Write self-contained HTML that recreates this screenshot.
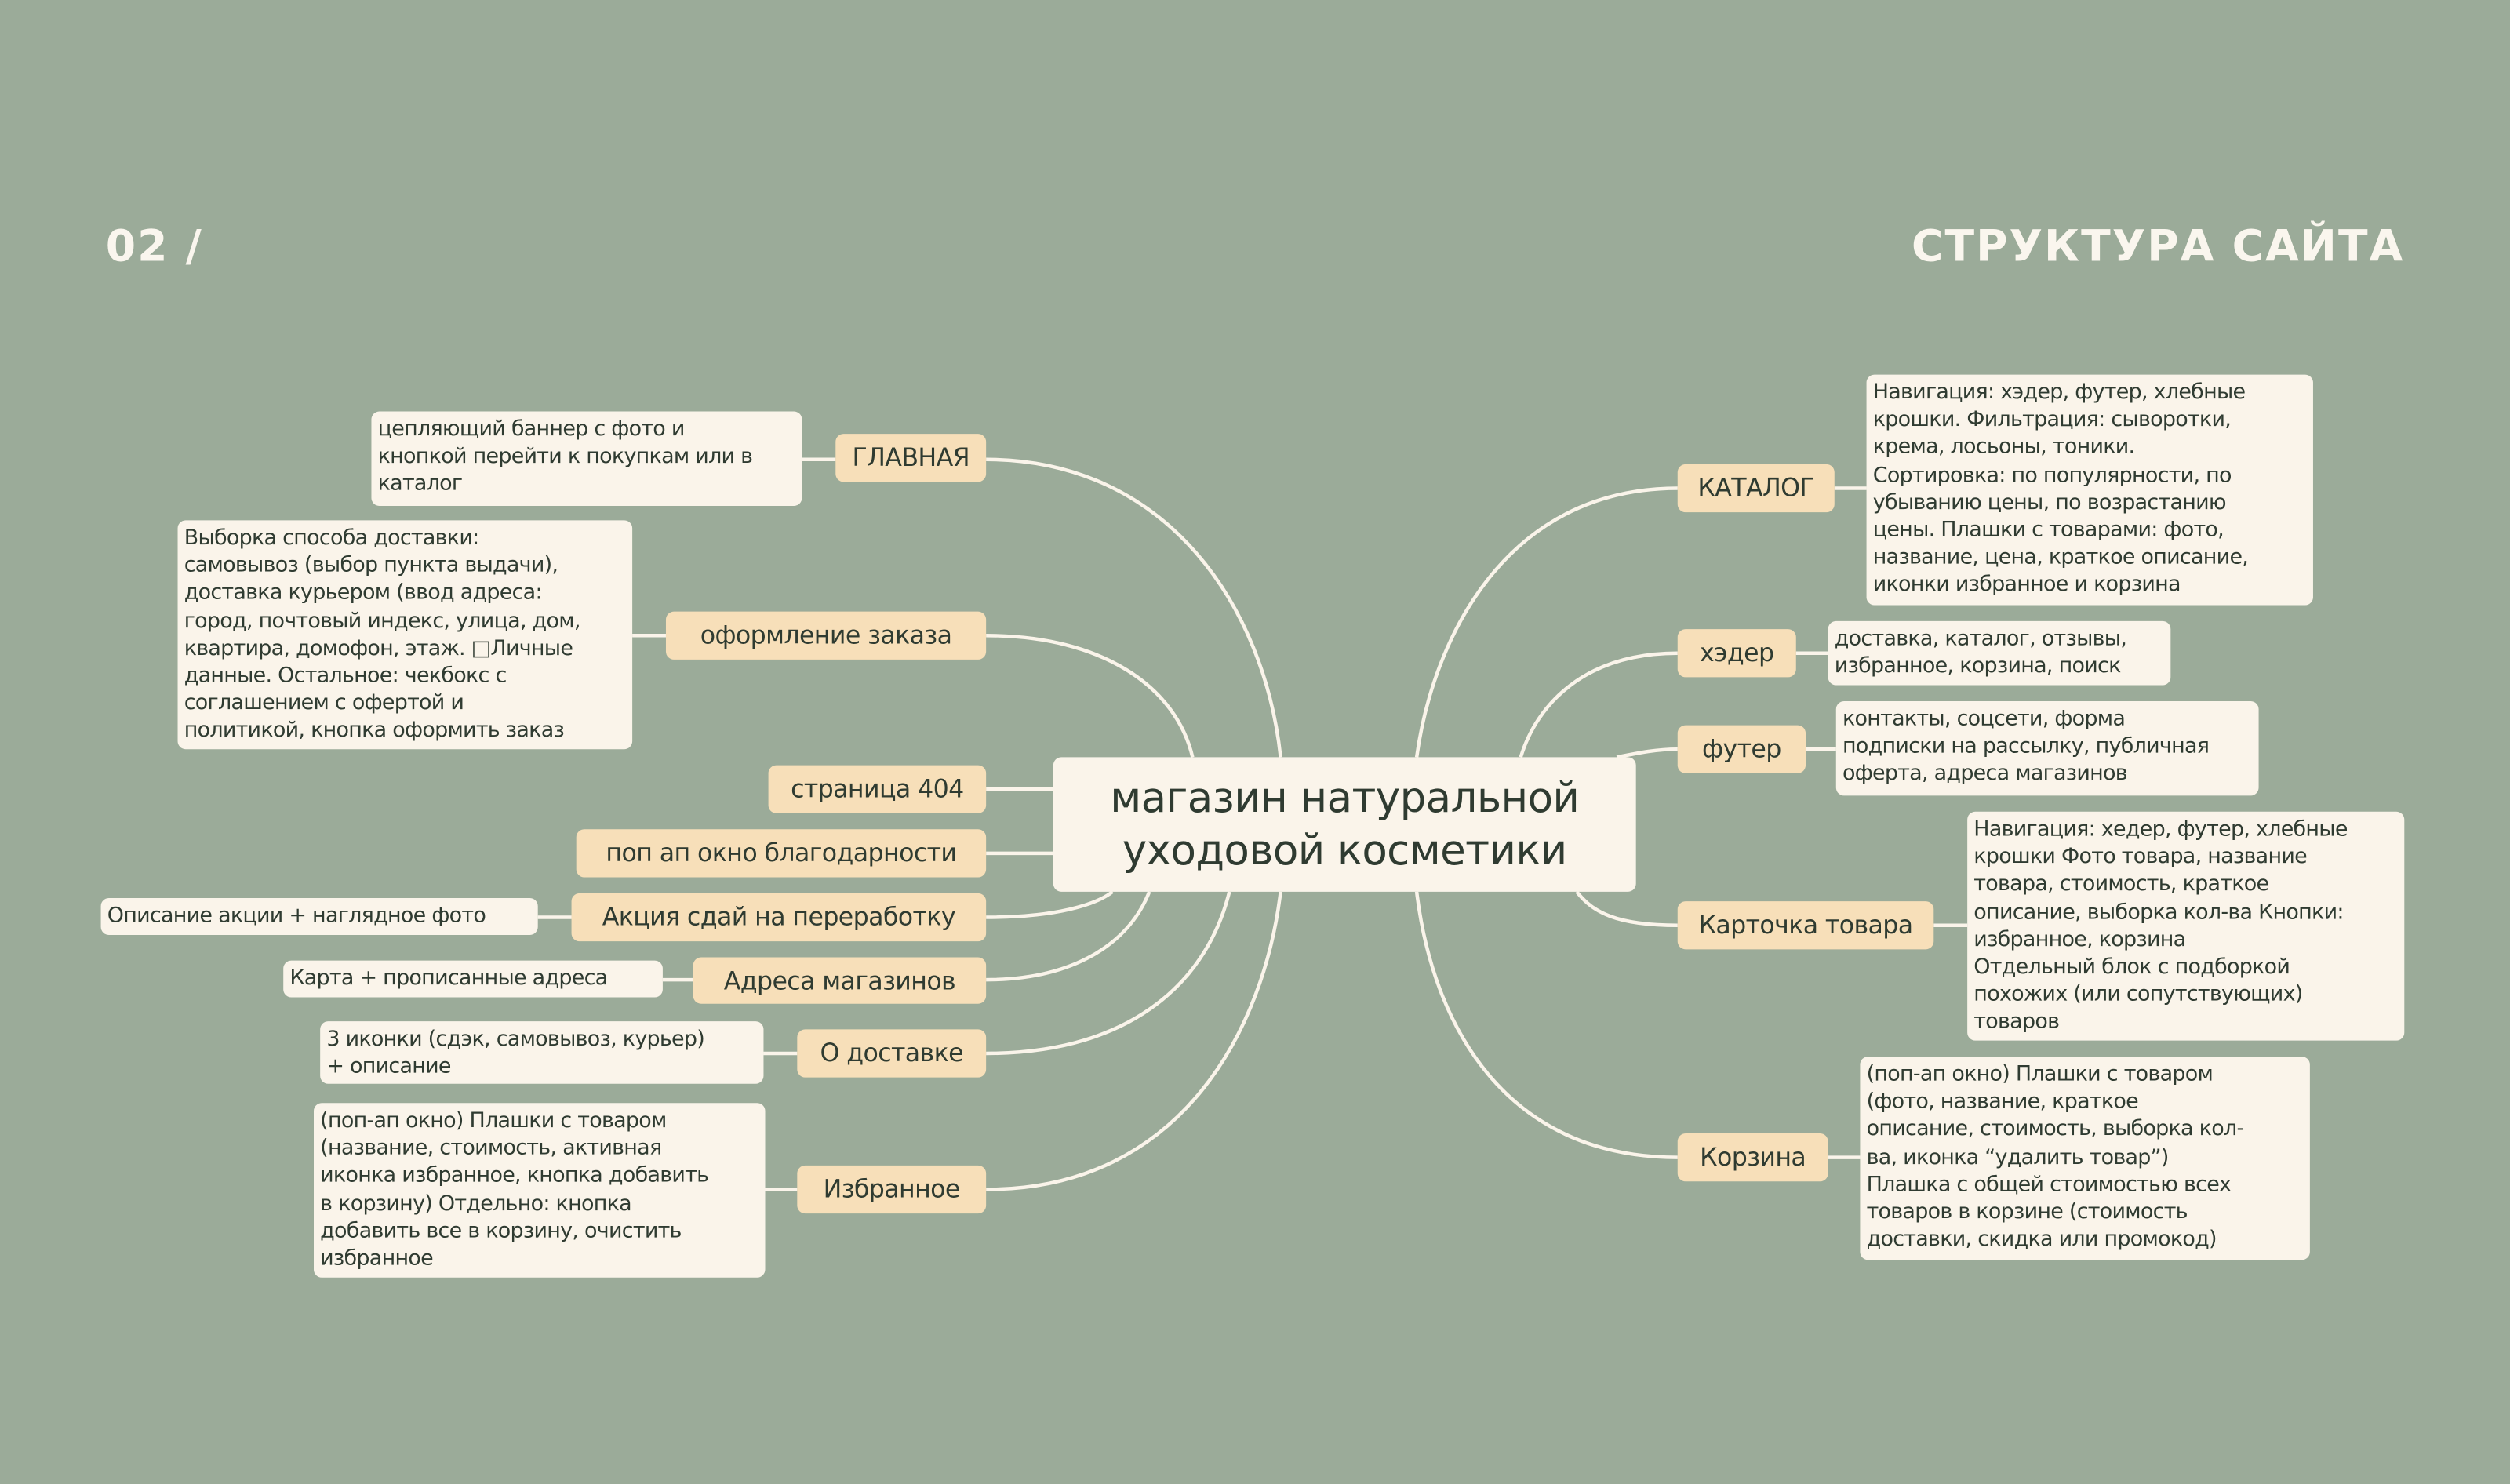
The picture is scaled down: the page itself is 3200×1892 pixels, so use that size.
<!DOCTYPE html>
<html><head><meta charset="utf-8"><style>
html,body{margin:0;padding:0;}
body{width:3200px;height:1892px;overflow:hidden;background:#9bab99;}
#w{position:absolute;left:0;top:0;width:1568px;height:927px;transform:scale(2.0408,2.041);transform-origin:0 0;font-family:"DejaVu Sans","Liberation Sans",sans-serif;color:#2f3b31;}
.o,.b,.c{position:absolute;box-sizing:border-box;border-radius:5px;}
.o{background:#f7dfb9;font-size:15.5px;display:flex;align-items:center;justify-content:center;white-space:nowrap;letter-spacing:-0.3px;}
.b{background:#faf4ea;font-size:13.2px;line-height:17.2px;padding:3px 4px 1px;white-space:nowrap;letter-spacing:-0.35px;}
.c{background:#faf4ea;font-size:26px;line-height:33px;text-align:center;padding-top:10px;letter-spacing:-0.3px;}
.h{position:absolute;color:#faf6ee;font-size:27px;font-weight:bold;top:139px;letter-spacing:1px;}
svg{position:absolute;left:0;top:0;}
</style></head><body><div id="w">
<div class="h" style="left:66px;">02 /</div>
<div class="h" style="right:66px;">СТРУКТУРА САЙТА</div>
<svg width="1568" height="927" fill="none" stroke="#faf4ea" stroke-width="2.2">
<path d="M616,287 C730,287 790,380 800,473"/>
<path d="M616,397 C690,397 735,430 745,473"/>
<path d="M616,493 L658,493"/>
<path d="M616,533 L658,533"/>
<path d="M616,573 C660,573 685,565 695,557"/>
<path d="M616,612 C670,612 705,590 718,557"/>
<path d="M616,658 C710,658 755,610 768,557"/>
<path d="M616,743 C740,743 790,640 800,557"/>
<path d="M1048,305 C940,305 895,400 885,473"/>
<path d="M1048,408 C990,408 960,440 950,473"/>
<path d="M1048,468 C1035,468 1025,470 1010,473"/>
<path d="M1048,578 C1010,578 995,570 985,557"/>
<path d="M1048,723 C940,723 895,640 885,557"/>
<path d="M501,287 L522,287"/>
<path d="M395,397 L416,397"/>
<path d="M336,573 L357,573"/>
<path d="M414,612 L433,612"/>
<path d="M477,658 L498,658"/>
<path d="M478,743 L498,743"/>
<path d="M1146,305 L1166,305"/>
<path d="M1122,408 L1142,408"/>
<path d="M1128,468 L1147,468"/>
<path d="M1208,578 L1229,578"/>
<path d="M1142,723 L1162,723"/>
</svg>
<div class="c" style="left:658px;top:473px;width:364px;height:84px;">магазин натуральной<br>уходовой косметики</div>

<div class="o" style="left:522px;top:271px;width:94px;height:30px;">ГЛАВНАЯ</div>
<div class="o" style="left:416px;top:382px;width:200px;height:30px;">оформление заказа</div>
<div class="o" style="left:480px;top:478px;width:136px;height:30px;">страница 404</div>
<div class="o" style="left:360px;top:518px;width:256px;height:30px;">поп ап окно благодарности</div>
<div class="o" style="left:357px;top:558px;width:259px;height:30px;">Акция сдай на переработку</div>
<div class="o" style="left:433px;top:598px;width:183px;height:29px;">Адреса магазинов</div>
<div class="o" style="left:498px;top:643px;width:118px;height:30px;">О доставке</div>
<div class="o" style="left:498px;top:728px;width:118px;height:30px;">Избранное</div>

<div class="o" style="left:1048px;top:290px;width:98px;height:30px;">КАТАЛОГ</div>
<div class="o" style="left:1048px;top:393px;width:74px;height:30px;">хэдер</div>
<div class="o" style="left:1048px;top:453px;width:80px;height:30px;">футер</div>
<div class="o" style="left:1048px;top:563px;width:160px;height:30px;">Карточка товара</div>
<div class="o" style="left:1048px;top:708px;width:94px;height:30px;">Корзина</div>

<div class="b" style="left:232px;top:257px;width:269px;height:59px;">цепляющий баннер с фото и<br>кнопкой перейти к покупкам или в<br>каталог</div>
<div class="b" style="left:111px;top:325px;width:284px;height:143px;">Выборка способа доставки:<br>самовывоз (выбор пункта выдачи),<br>доставка курьером (ввод адреса:<br>город, почтовый индекс, улица, дом,<br>квартира, домофон, этаж. □Личные<br>данные. Остальное: чекбокс с<br>соглашением с офертой и<br>политикой, кнопка оформить заказ</div>
<div class="b" style="left:63px;top:561px;width:273px;height:23px;">Описание акции + наглядное фото</div>
<div class="b" style="left:177px;top:600px;width:237px;height:23px;">Карта + прописанные адреса</div>
<div class="b" style="left:200px;top:638px;width:277px;height:39px;">3 иконки (сдэк, самовывоз, курьер)<br>+ описание</div>
<div class="b" style="left:196px;top:689px;width:282px;height:109px;">(поп-ап окно) Плашки с товаром<br>(название, стоимость, активная<br>иконка избранное, кнопка добавить<br>в корзину) Отдельно: кнопка<br>добавить все в корзину, очистить<br>избранное</div>

<div class="b" style="left:1166px;top:234px;width:279px;height:144px;">Навигация: хэдер, футер, хлебные<br>крошки. Фильтрация: сыворотки,<br>крема, лосьоны, тоники.<br>Сортировка: по популярности, по<br>убыванию цены, по возрастанию<br>цены. Плашки с товарами: фото,<br>название, цена, краткое описание,<br>иконки избранное и корзина</div>
<div class="b" style="left:1142px;top:388px;width:214px;height:40px;">доставка, каталог, отзывы,<br>избранное, корзина, поиск</div>
<div class="b" style="left:1147px;top:438px;width:264px;height:59px;">контакты, соцсети, форма<br>подписки на рассылку, публичная<br>оферта, адреса магазинов</div>
<div class="b" style="left:1229px;top:507px;width:273px;height:143px;">Навигация: хедер, футер, хлебные<br>крошки Фото товара, название<br>товара, стоимость, краткое<br>описание, выборка кол-ва Кнопки:<br>избранное, корзина<br>Отдельный блок с подборкой<br>похожих (или сопутствующих)<br>товаров</div>
<div class="b" style="left:1162px;top:660px;width:281px;height:127px;">(поп-ап окно) Плашки с товаром<br>(фото, название, краткое<br>описание, стоимость,  выборка кол-<br>ва, иконка “удалить товар”)<br>Плашка с общей стоимостью всех<br>товаров в корзине (стоимость<br>доставки, скидка или промокод)</div>
</div></body></html>
